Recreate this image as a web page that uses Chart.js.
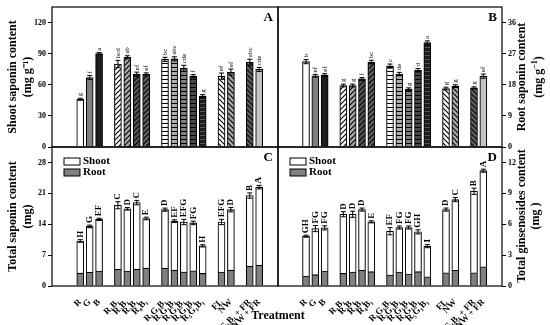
<!DOCTYPE html>
<html>
<head>
<meta charset="utf-8">
<script src="https://cdn.jsdelivr.net/npm/chart.js@4.4.1/dist/chart.umd.min.js"></script>
<style>
  body { margin: 0; background: #fff; }
  #wrap { position: relative; width: 550px; height: 325px; font-family: "Liberation Serif", serif; }
  #wrap canvas { position: absolute; left: 0; top: 0; }
  .vt { position: absolute; width: 170px; height: 28px; text-align: center; font-weight: bold;
        font-size: 12px; line-height: 14px; transform: rotate(-90deg); }
</style>
</head>
<body>
<div id="wrap">
  <canvas id="cA" width="550" height="325"></canvas>
  <canvas id="cB" width="550" height="325"></canvas>
  <canvas id="cC" width="550" height="325"></canvas>
  <canvas id="cD" width="550" height="325"></canvas>
  <div class="vt" style="left:443px; top:63px;">Root saponin content<br>(mg g<sup style="font-size:8px">−1</sup>)</div>
  <div class="vt" style="left:443px; top:202px;">Total ginsenosides content<br>(mg )</div>
  <div style="position:absolute; left:228px; top:308px; width:100px; text-align:center; font-weight:bold; font-size:12px;">Treatment</div>
</div>
<script>
// treatments, in groups (gaps between groups on the axis)
const groups = [
  ['R', 'G', 'B'],
  ['R₁B₁', 'R₂B₁', 'R₃B₁', 'R₄B₁'],
  ['R₁G₁B₁', 'R₂G₁B₁', 'R₃G₁B₁', 'R₄G₁B₁', 'R₅G₁B₁'],
  ['FL', 'NW'],
  ['R₁G₁B₁ + FR', 'NW + FR']
];

// A: shoot saponin content (mg g-1)
const shootSap = [46, 67, 90, 80, 86.5, 70.2, 70, 84.5, 85, 75.8, 68.3, 49, 68.3, 72.2, 81.7, 74.8];
const shootSapErr = [1, 2, 1, 3.5, 1.5, 2, 1.5, 2, 2, 3, 1.5, 1.5, 3, 3, 3, 2];
const shootSapLet = ['g', 'f', 'a', 'bcd', 'ab', 'ef', 'ef', 'bc', 'abc', 'cde', 'f', 'g', 'ef', 'ef', 'abc', 'cde'];

// B: root saponin content (mg g-1)
const rootSap = [24.7, 20.6, 20.8, 17.8, 17.8, 19.7, 24.6, 23.4, 21.1, 16.7, 22.2, 30.2, 16.9, 17.6, 17.1, 20.5];
const rootSapErr = [0.6, 0.4, 0.4, 0.4, 0.4, 0.4, 0.5, 0.6, 0.5, 0.4, 0.5, 0.5, 0.4, 0.4, 0.3, 0.6];
const rootSapLet = ['b', 'ef', 'ef', 'g', 'g', 'f', 'bc', 'c', 'de', 'g', 'd', 'a', 'g', 'g', 'g', 'ef'];

// C: total saponin content (mg), shoot + root
const totSapShoot = [7.3, 10.4, 11.7, 14.5, 14.1, 15.1, 11.25, 13.25, 11.1, 11.35, 10.85, 6.25, 11.35, 13.7, 16.0, 17.7];
const totSapRoot = [2.9, 3.1, 3.4, 3.8, 3.4, 3.8, 4.05, 4.05, 3.6, 3.15, 3.45, 2.85, 3.15, 3.6, 4.5, 4.7];
const totSapErr = [0.3, 0.3, 0.25, 0.8, 0.3, 0.5, 0.3, 0.35, 0.3, 0.6, 0.4, 0.25, 0.6, 0.5, 0.6, 0.4];
const totSapLet = ['H', 'G', 'EF', 'C', 'D', 'C', 'E', 'D', 'EF', 'EFG', 'FG', 'H', 'EFG', 'D', 'B', 'A'];

// D: total ginsenosides content (mg), shoot + root
const ginShoot = [3.87, 4.48, 4.2, 5.75, 5.62, 5.9, 4.84, 4.26, 4.33, 4.52, 3.87, 2.97, 6.13, 6.87, 7.91, 9.33];
const ginRoot = [0.97, 1.1, 1.45, 1.22, 1.35, 1.52, 1.39, 1.06, 1.35, 1.16, 1.39, 0.9, 1.29, 1.52, 1.29, 1.87];
const ginErr = [0.1, 0.3, 0.2, 0.25, 0.3, 0.15, 0.1, 0.35, 0.15, 0.15, 0.2, 0.15, 0.15, 0.2, 0.3, 0.15];
const ginLet = ['GH', 'FG', 'FG', 'D', 'D', 'D', 'E', 'EF', 'FG', 'FG', 'GH', 'I', 'D', 'C', 'B', 'A'];

// y tick labels
const ticksA = [0, 30, 60, 90, 120];
const ticksB = [0, 9, 18, 27, 36];
const ticksC = [0, 7, 14, 21, 28];
const ticksD = [0, 3, 6, 9, 12];

const FONT = '"Liberation Serif", "Times New Roman", serif';

// category slots: 3 blanks, groups separated by a blank, 2 blanks at the end
const slots = [];
for (let i = 0; i < 3; i++) slots.push(null);
groups.forEach((g, gi) => {
  g.forEach(n => slots.push(n));
  if (gi < groups.length - 1) slots.push(null);
});
slots.push(null, null);
const labels = slots.map(s => s || '');
function spread(arr) {
  let k = 0;
  return slots.map(s => (s === null ? null : arr[k++]));
}

function hatch(bg, fg, dir) {
  const n = dir === '-' ? 4 : 5;
  const c = document.createElement('canvas');
  c.width = c.height = n;
  const g = c.getContext('2d');
  g.fillStyle = bg;
  g.fillRect(0, 0, n, n);
  g.strokeStyle = fg;
  g.lineWidth = 1.1;
  g.beginPath();
  if (dir === '/') {
    g.moveTo(0, n); g.lineTo(n, 0);
    g.moveTo(-1, 1); g.lineTo(1, -1);
    g.moveTo(n - 1, n + 1); g.lineTo(n + 1, n - 1);
  } else if (dir === '\\') {
    g.moveTo(0, 0); g.lineTo(n, n);
    g.moveTo(-1, n - 1); g.lineTo(1, n + 1);
    g.moveTo(n - 1, -1); g.lineTo(n + 1, 1);
  } else {
    g.moveTo(0, n - 0.5); g.lineTo(n, n - 0.5);
  }
  g.stroke();
  return g.createPattern(c, 'repeat');
}

const fills = [
  '#ffffff', '#7f7f7f', '#1c1c1c',
  hatch('#ffffff', '#000', '/'), hatch('#a8a8a8', '#000', '/'), hatch('#555', '#000', '/'), hatch('#262626', '#888', '/'),
  hatch('#ffffff', '#000', '-'), hatch('#b0b0b0', '#000', '-'), hatch('#808080', '#000', '-'), hatch('#4a4a4a', '#000', '-'), hatch('#1c1c1c', '#555', '-'),
  hatch('#ffffff', '#000', '\\'), hatch('#a8a8a8', '#000', '\\'), hatch('#262626', '#888', '\\'), '#c4c4c4'
];

// error bars, letters, frame, panel letter and legend
const marks = {
  id: 'marks',
  afterDatasetsDraw(chart, args, o) {
    const { ctx, chartArea: a } = chart;
    const y = chart.scales.y;
    const ds = chart.data.datasets;
    const meta = chart.getDatasetMeta(ds.length - 1);
    const err = spread(o.err), let_ = spread(o.letters);
    ctx.save();
    ctx.strokeStyle = '#000';
    ctx.fillStyle = '#000';
    meta.data.forEach((el, i) => {
      if (ds[0].data[i] == null) return;
      const tot = ds.reduce((s, d) => s + d.data[i], 0);
      const yt = y.getPixelForValue(tot + err[i]);
      const yb = y.getPixelForValue(tot - err[i]);
      ctx.lineWidth = 1;
      ctx.beginPath();
      ctx.moveTo(el.x, yb); ctx.lineTo(el.x, yt);
      ctx.moveTo(el.x - 2.5, yt); ctx.lineTo(el.x + 2.5, yt);
      ctx.moveTo(el.x - 2.5, yb); ctx.lineTo(el.x + 2.5, yb);
      ctx.stroke();
      ctx.save();
      ctx.translate(el.x, yt - 2);
      ctx.rotate(-Math.PI / 2);
      ctx.font = o.font;
      ctx.textAlign = 'left';
      ctx.textBaseline = 'middle';
      ctx.fillText(let_[i], 0, 0);
      ctx.restore();
    });
    ctx.lineWidth = 1.2;
    ctx.strokeRect(a.left, a.top, a.width, a.height);
    ctx.font = 'bold 13px ' + FONT;
    ctx.textAlign = 'right';
    ctx.textBaseline = 'top';
    ctx.fillText(o.panel, a.right - 5, a.top + 4);
    if (o.legend) {
      ctx.font = 'bold 11px ' + FONT;
      ctx.textAlign = 'left';
      ctx.textBaseline = 'middle';
      ds.slice().reverse().forEach((d, k) => {
        const by = a.top + 11 + k * 11;
        ctx.fillStyle = d.backgroundColor;
        ctx.fillRect(a.left + 12, by, 16, 7);
        ctx.lineWidth = 1;
        ctx.strokeRect(a.left + 12, by, 16, 7);
        ctx.fillStyle = '#000';
        ctx.fillText(d.label, a.left + 31, by + 3.5);
      });
    }
    ctx.restore();
  }
};

function panel(id, o) {
  return new Chart(document.getElementById(id), {
    type: 'bar',
    data: { labels: labels, datasets: o.datasets },
    options: {
      responsive: false,
      animation: false,
      events: [],
      layout: { padding: o.pad },
      plugins: {
        legend: { display: false },
        tooltip: { enabled: false },
        marks: { err: o.err, letters: o.letters, font: o.letFont, panel: o.panel, legend: !!o.legend }
      },
      scales: {
        x: {
          stacked: true,
          offset: false,
          grid: { display: false },
          border: { display: false },
          ticks: {
            display: o.showX, autoSkip: false, minRotation: 45, maxRotation: 45,
            color: '#000', padding: 3, font: { family: FONT, size: 9, weight: 'bold' }
          },
          afterFit: s => { s.height = o.xh; }
        },
        y: {
          stacked: true,
          position: o.side,
          min: 0,
          max: o.max,
          grid: { drawOnChartArea: false, tickLength: 4, color: '#000' },
          border: { display: false },
          ticks: { color: '#000', padding: 2, font: { family: FONT, size: 8, weight: 'bold' } },
          afterBuildTicks: s => { s.ticks = o.ticks.map(v => ({ value: v })); },
          afterFit: s => { s.width = o.yw; },
          title: o.title || { display: false }
        }
      }
    },
    plugins: [marks]
  });
}

const barBase = { barThickness: 7, borderColor: '#000', borderWidth: 1.1 };
const yTitle = (t) => ({
  display: true, text: t, color: '#000', padding: { top: 6, bottom: 0 },
  font: { family: FONT, size: 12, weight: 'bold' }
});

panel('cA', {
  datasets: [{ ...barBase, data: spread(shootSap), backgroundColor: spread(fills) }],
  err: shootSapErr, letters: shootSapLet, letFont: '7px ' + FONT, panel: 'A',
  pad: { left: 0, top: 7, right: 272, bottom: 178 }, side: 'left', yw: 52, xh: 0, showX: false,
  max: 135, ticks: ticksA, title: yTitle(['Shoot saponin content', '(mg g⁻¹)'])
});
panel('cB', {
  datasets: [{ ...barBase, data: spread(rootSap), backgroundColor: spread(fills) }],
  err: rootSapErr, letters: rootSapLet, letFont: '7px ' + FONT, panel: 'B',
  pad: { left: 278, top: 7, right: 0, bottom: 178 }, side: 'right', yw: 48, xh: 0, showX: false,
  max: 40.5, ticks: ticksB
});
panel('cC', {
  datasets: [
    { ...barBase, label: 'Root', data: spread(totSapRoot), backgroundColor: '#808080' },
    { ...barBase, label: 'Shoot', data: spread(totSapShoot), backgroundColor: '#ffffff' }
  ],
  err: totSapErr, letters: totSapLet, letFont: 'bold 9px ' + FONT, panel: 'C', legend: true,
  pad: { left: 0, top: 147, right: 272, bottom: 0 }, side: 'left', yw: 52, xh: 39, showX: true,
  max: 31.5, ticks: ticksC, title: yTitle(['Total saponin content', '(mg)'])
});
panel('cD', {
  datasets: [
    { ...barBase, label: 'Root', data: spread(ginRoot), backgroundColor: '#808080' },
    { ...barBase, label: 'Shoot', data: spread(ginShoot), backgroundColor: '#ffffff' }
  ],
  err: ginErr, letters: ginLet, letFont: 'bold 9px ' + FONT, panel: 'D', legend: true,
  pad: { left: 278, top: 147, right: 0, bottom: 0 }, side: 'right', yw: 48, xh: 39, showX: true,
  max: 13.5, ticks: ticksD
});
</script>
</body>
</html>
